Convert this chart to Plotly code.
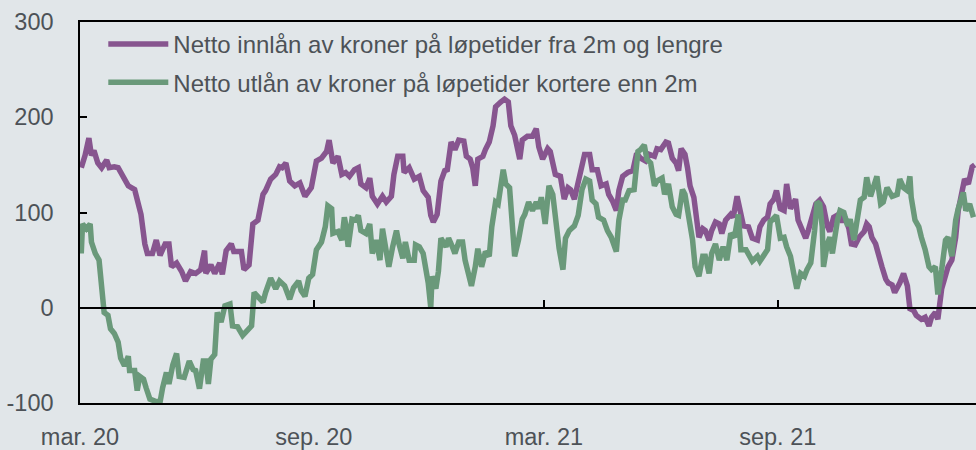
import plotly.graph_objects as go

# ---- data ----
innlan_dates = [
    "2020-03-02","2020-03-05","2020-03-08","2020-03-10","2020-03-12","2020-03-15","2020-03-18","2020-03-22",
    "2020-03-24","2020-03-28","2020-03-31","2020-04-04","2020-04-08","2020-04-13","2020-04-16","2020-04-18",
    "2020-04-21","2020-04-23","2020-04-27","2020-04-30","2020-05-03","2020-05-07","2020-05-10","2020-05-12",
    "2020-05-16","2020-05-20","2020-05-23","2020-05-27","2020-05-31","2020-06-04","2020-06-07","2020-06-08",
    "2020-06-12","2020-06-15","2020-06-19","2020-06-21","2020-06-24","2020-06-28","2020-06-30","2020-07-06",
    "2020-07-08","2020-07-12","2020-07-15","2020-07-19","2020-07-23","2020-07-25","2020-07-29","2020-08-02",
    "2020-08-05","2020-08-07","2020-08-10","2020-08-13","2020-08-17","2020-08-21","2020-08-25","2020-08-30",
    "2020-09-03","2020-09-07","2020-09-11","2020-09-13","2020-09-16","2020-09-20","2020-09-23","2020-09-26",
    "2020-09-29","2020-10-03","2020-10-06","2020-10-08","2020-10-12","2020-10-15","2020-10-17","2020-10-21",
    "2020-10-25","2020-10-28","2020-11-01","2020-11-03","2020-11-06","2020-11-10","2020-11-11","2020-11-15",
    "2020-11-19","2020-11-23","2020-11-26","2020-11-30","2020-12-02","2020-12-04","2020-12-07","2020-12-10",
    "2020-12-13","2020-12-15","2020-12-18","2020-12-21","2020-12-24","2020-12-28","2020-12-30","2021-01-02",
    "2021-01-04","2021-01-06","2021-01-08","2021-01-12","2021-01-14","2021-01-17","2021-01-20","2021-01-22",
    "2021-01-26","2021-01-29","2021-02-01","2021-02-03","2021-02-06","2021-02-10","2021-02-12","2021-02-16",
    "2021-02-20","2021-02-23","2021-02-25","2021-02-28","2021-03-04","2021-03-06","2021-03-10","2021-03-14",
    "2021-03-17","2021-03-20","2021-03-22","2021-03-25","2021-03-27","2021-03-30","2021-04-02","2021-04-06",
    "2021-04-08","2021-04-12","2021-04-15","2021-04-19","2021-04-21","2021-04-24","2021-04-27","2021-04-29",
    "2021-05-02","2021-05-06","2021-05-10","2021-05-13","2021-05-16","2021-05-20","2021-05-23","2021-05-27",
    "2021-05-29","2021-06-01","2021-06-05","2021-06-07","2021-06-10","2021-06-13","2021-06-15","2021-06-17",
    "2021-06-20","2021-06-22","2021-06-24","2021-06-27","2021-06-29","2021-07-01","2021-07-04","2021-07-06",
    "2021-07-09","2021-07-11","2021-07-14","2021-07-17","2021-07-19","2021-07-22","2021-07-26","2021-07-28",
    "2021-07-31","2021-08-03","2021-08-05","2021-08-09","2021-08-12","2021-08-16","2021-08-18","2021-08-21",
    "2021-08-24","2021-08-26","2021-08-29","2021-08-31","2021-09-03","2021-09-06","2021-09-08","2021-09-11",
    "2021-09-15","2021-09-17","2021-09-20","2021-09-23","2021-09-25","2021-09-28","2021-10-01","2021-10-04",
    "2021-10-07","2021-10-10","2021-10-12","2021-10-15","2021-10-19","2021-10-22","2021-10-24","2021-10-27",
    "2021-10-29","2021-11-01","2021-11-04","2021-11-08","2021-11-10","2021-11-12","2021-11-14","2021-11-17",
    "2021-11-19","2021-11-22","2021-11-25","2021-11-27","2021-11-30","2021-12-02","2021-12-06","2021-12-09",
    "2021-12-12","2021-12-14","2021-12-17","2021-12-19","2021-12-23","2021-12-26","2021-12-29","2021-12-31",
    "2022-01-03","2022-01-05","2022-01-08","2022-01-11","2022-01-13","2022-01-16","2022-01-19","2022-01-21",
    "2022-01-24","2022-01-26","2022-01-29","2022-02-01","2022-02-03",
]
innlan_values = [
    147, 160, 178, 160, 165, 152, 147, 155, 147, 148, 147, 136, 128, 124, 109, 98,
    67, 57, 57, 71, 55, 67, 67, 43, 47, 38, 28, 38, 36, 40, 60, 36,
    45, 36, 47, 35, 60, 67, 59, 59, 40, 45, 88, 92, 119, 123, 135, 140,
    148, 147, 152, 133, 128, 131, 117, 126, 154, 157, 164, 176, 152, 159, 140, 142,
    138, 145, 147, 130, 126, 136, 117, 109, 117, 111, 117, 140, 159, 159, 142, 147,
    135, 138, 123, 116, 97, 90, 98, 133, 144, 145, 174, 166, 176, 175, 159, 156,
    147, 128, 156, 159, 166, 174, 191, 211, 216, 219, 216, 191, 181, 156, 176, 180,
    180, 188, 169, 156, 167, 164, 140, 138, 114, 126, 124, 114, 126, 144, 161, 161,
    145, 145, 128, 130, 119, 112, 102, 123, 138, 142, 144, 162, 157, 154, 161, 159,
    167, 166, 174, 173, 157, 152, 144, 167, 161, 147, 128, 116, 95, 74, 83, 81,
    71, 81, 90, 88, 78, 92, 98, 95, 117, 98, 86, 85, 73, 71, 85, 92,
    95, 109, 114, 123, 104, 102, 130, 104, 114, 92, 81, 73, 81, 95, 109, 113,
    106, 86, 80, 95, 98, 90, 95, 83, 67, 66, 74, 80, 88, 85, 74, 67,
    59, 43, 30, 26, 24, 16, 26, 36, 23, -1, -3, -8, -12, -10, -19, -10,
    -5, -12, 20, 33, 43, 50, 74, 102, 123, 135, 130, 148, 150,
]

utlan_dates = [
    "2020-03-02","2020-03-03","2020-03-06","2020-03-09","2020-03-10","2020-03-13","2020-03-16","2020-03-18",
    "2020-03-20","2020-03-23","2020-03-25","2020-03-28","2020-03-31","2020-04-02","2020-04-05","2020-04-08",
    "2020-04-09","2020-04-13","2020-04-15","2020-04-17","2020-04-20","2020-04-22","2020-04-25","2020-04-29",
    "2020-05-03","2020-05-05","2020-05-08","2020-05-10","2020-05-13","2020-05-16","2020-05-18","2020-05-22",
    "2020-05-26","2020-05-29","2020-05-31","2020-06-03","2020-06-06","2020-06-08","2020-06-10","2020-06-12",
    "2020-06-15","2020-06-17","2020-06-20","2020-06-23","2020-06-27","2020-06-29","2020-07-03","2020-07-07",
    "2020-07-11","2020-07-14","2020-07-16","2020-07-20","2020-07-23","2020-07-25","2020-07-29","2020-08-02",
    "2020-08-05","2020-08-09","2020-08-13","2020-08-16","2020-08-20","2020-08-22","2020-08-25","2020-08-28",
    "2020-08-31","2020-09-03","2020-09-07","2020-09-10","2020-09-12","2020-09-15","2020-09-16","2020-09-20",
    "2020-09-23","2020-09-25","2020-09-26","2020-09-28","2020-10-01","2020-10-04","2020-10-06","2020-10-08",
    "2020-10-12","2020-10-15","2020-10-17","2020-10-20","2020-10-23","2020-10-25","2020-10-27","2020-10-30",
    "2020-11-02","2020-11-05","2020-11-07","2020-11-10","2020-11-12","2020-11-15","2020-11-19","2020-11-20",
    "2020-11-23","2020-11-26","2020-11-30","2020-12-02","2020-12-03","2020-12-06","2020-12-08","2020-12-10",
    "2020-12-14","2020-12-16","2020-12-19","2020-12-21","2020-12-24","2020-12-27","2020-12-29","2021-01-01",
    "2021-01-03","2021-01-06","2021-01-08","2021-01-11","2021-01-14","2021-01-17","2021-01-19","2021-01-22",
    "2021-01-24","2021-01-28","2021-01-30","2021-02-02","2021-02-04","2021-02-06","2021-02-09","2021-02-12",
    "2021-02-14","2021-02-17","2021-02-20","2021-02-23","2021-02-25","2021-02-27","2021-03-02","2021-03-05",
    "2021-03-08","2021-03-10","2021-03-13","2021-03-16","2021-03-18","2021-03-21","2021-03-25","2021-03-28",
    "2021-03-31","2021-04-03","2021-04-06","2021-04-08","2021-04-11","2021-04-13","2021-04-17","2021-04-20",
    "2021-04-23","2021-04-27","2021-04-29","2021-05-02","2021-05-04","2021-05-07","2021-05-11","2021-05-14",
    "2021-05-16","2021-05-19","2021-05-21","2021-05-24","2021-05-27","2021-05-29","2021-06-02","2021-06-04",
    "2021-06-07","2021-06-10","2021-06-13","2021-06-15","2021-06-18","2021-06-20","2021-06-23","2021-06-26",
    "2021-06-28","2021-07-01","2021-07-04","2021-07-06","2021-07-09","2021-07-11","2021-07-14","2021-07-17",
    "2021-07-20","2021-07-23","2021-07-26","2021-07-29","2021-08-01","2021-08-03","2021-08-07","2021-08-09",
    "2021-08-12","2021-08-16","2021-08-18","2021-08-21","2021-08-24","2021-08-26","2021-08-29","2021-08-31",
    "2021-09-03","2021-09-06","2021-09-08","2021-09-11","2021-09-14","2021-09-16","2021-09-19","2021-09-22",
    "2021-09-24","2021-09-27","2021-09-30","2021-10-02","2021-10-04","2021-10-06","2021-10-07","2021-10-10",
    "2021-10-12","2021-10-14","2021-10-18","2021-10-20","2021-10-23","2021-10-26","2021-10-28","2021-10-31",
    "2021-11-02","2021-11-05","2021-11-08","2021-11-10","2021-11-13","2021-11-15","2021-11-18","2021-11-21",
    "2021-11-23","2021-11-26","2021-11-30","2021-12-04","2021-12-06","2021-12-09","2021-12-12","2021-12-14",
    "2021-12-15","2021-12-18","2021-12-21","2021-12-23","2021-12-26","2021-12-29","2021-12-31","2022-01-03",
    "2022-01-05","2022-01-08","2022-01-11","2022-01-13","2022-01-16","2022-01-19","2022-01-21","2022-01-25",
    "2022-01-27","2022-01-30","2022-02-02",
]
utlan_values = [
    57, 88, 83, 88, 69, 57, 50, 20, -5, -8, -22, -27, -36, -53, -61, -51,
    -66, -66, -87, -72, -75, -84, -96, -98, -99, -84, -68, -80, -60, -48, -72, -73,
    -56, -65, -66, -85, -56, -56, -80, -54, -49, -5, -15, 2, 4, -19, -20, -29,
    -22, -19, 16, 9, 6, 16, 31, 20, 28, 23, 9, 21, 28, 18, 12, 31,
    35, 61, 69, 85, 107, 104, 78, 80, 71, 95, 88, 64, 93, 92, 97, 81,
    78, 88, 57, 71, 50, 83, 67, 43, 64, 81, 67, 52, 69, 50, 50, 66,
    64, 57, 26, 0, 33, 20, 38, 73, 64, 73, 64, 57, 69, 69, 50, 36,
    23, 43, 62, 43, 59, 54, 85, 111, 109, 145, 130, 126, 97, 54, 71, 93,
    98, 111, 102, 111, 104, 116, 88, 128, 119, 92, 62, 40, 73, 81, 86, 97,
    124, 135, 133, 113, 109, 95, 92, 81, 74, 59, 92, 113, 113, 123, 124, 164,
    166, 171, 156, 152, 128, 133, 136, 119, 130, 106, 98, 97, 124, 119, 98, 71,
    43, 33, 54, 54, 36, 57, 67, 50, 64, 50, 78, 74, 98, 61, 61, 55,
    49, 54, 49, 55, 61, 90, 95, 97, 73, 74, 64, 54, 33, 20, 36, 33,
    40, 47, 81, 111, 109, 85, 43, 67, 74, 57, 92, 102, 100, 86, 93, 71,
    88, 113, 116, 137, 117, 126, 138, 109, 111, 126, 117, 119, 135, 126, 123, 138,
    116, 92, 85, 74, 61, 43, 40, 43, 14, 40, 71, 74, 54, 92, 104, 121,
    102, 109, 95,
]

series_names = [
    "Netto innlån av kroner på løpetider fra 2m og lengre",
    "Netto utlån av kroner på løpetider kortere enn 2m",
]
x_tick_dates = ["2020-03-01", "2020-09-01", "2021-03-01", "2021-09-01"]
x_tick_labels = ["mar. 20", "sep. 20", "mar. 21", "sep. 21"]
y_ticks = [-100, 0, 100, 200, 300]
y_tick_labels = ["-100", "0", "100", "200", "300"]
x_range = ["2020-03-01", "2022-02-04"]
y_range = [-100, 300]

PURPLE = "#87558f"
GREEN = "#6a997a"
BG = "#e1e6e9"
TXT = "#4d5257"
FONT = "Liberation Sans, Arial, sans-serif"

fig = go.Figure()
fig.add_trace(go.Scatter(
    x=innlan_dates, y=innlan_values, mode="lines", name=series_names[0],
    line=dict(color=PURPLE, width=5.5), legendgroup="a", xaxis="x", yaxis="y",
))
fig.add_trace(go.Scatter(
    x=utlan_dates, y=utlan_values, mode="lines", name=series_names[1],
    line=dict(color=GREEN, width=5.5), legendgroup="b", xaxis="x2", yaxis="y",
))

fig.update_layout(
    width=976, height=450,
    margin=dict(l=80, r=0, t=22, b=42),
    paper_bgcolor=BG, plot_bgcolor=BG,
    font=dict(family=FONT, size=23.5, color=TXT),
    showlegend=True,
    legend=dict(
        x=0.026, y=1.0, xanchor="left", yanchor="top",
        bgcolor="rgba(0,0,0,0)", traceorder="grouped", tracegroupgap=4,
        font=dict(size=24, color=TXT), itemwidth=60,
    ),
    xaxis=dict(
        type="date", range=x_range, showgrid=False, zeroline=False,
        showline=True, mirror=True, linecolor="black", linewidth=1.5,
        tickmode="array", tickvals=x_tick_dates, ticktext=x_tick_labels,
        ticks="", ticklabelstandoff=12, tickfont=dict(size=23.5, color=TXT),
    ),
    xaxis2=dict(
        type="date", range=x_range, overlaying="x", anchor="free", position=0.25,
        side="bottom", showgrid=False, zeroline=False, showline=True,
        linecolor="black", linewidth=1.5,
        tickmode="array", tickvals=x_tick_dates, ticks="inside", ticklen=7,
        tickwidth=1.5, tickcolor="black", showticklabels=False,
    ),
    yaxis=dict(
        range=y_range, showgrid=False, zeroline=False, showline=True,
        linecolor="black", linewidth=1.5,
        tickmode="array", tickvals=y_ticks, ticktext=y_tick_labels,
        ticks="inside", ticklen=7,
        tickwidth=1.5, tickcolor="black", ticklabelstandoff=20,
        tickfont=dict(size=23.5, color=TXT),
    ),
)

fig.write_html(
    "out.html",
    config={"displayModeBar": False},
    post_script="document.body.style.margin='0';document.body.style.overflow='hidden';",
)
